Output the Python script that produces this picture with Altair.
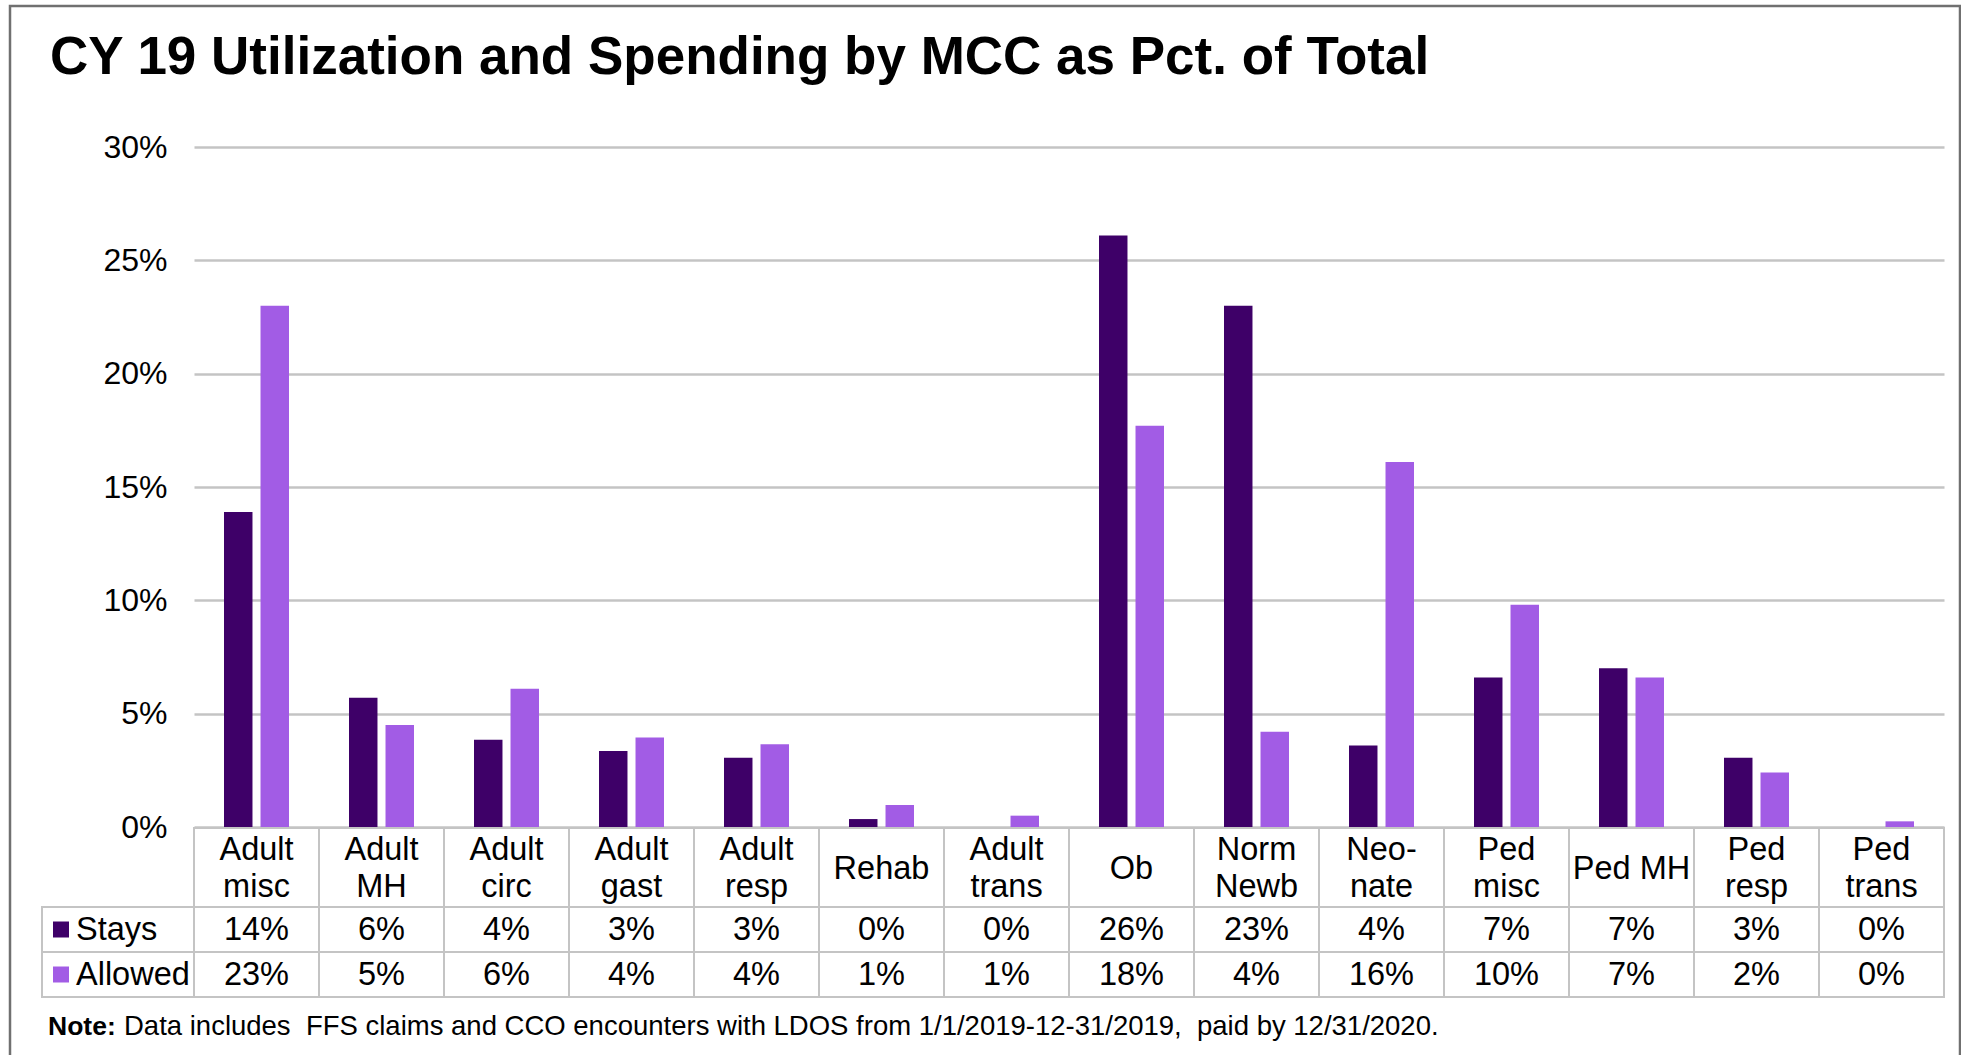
import altair as alt
import pandas as pd

# ---------------- data ----------------
categories = ["Adult\nmisc", "Adult\nMH", "Adult\ncirc", "Adult\ngast", "Adult\nresp", "Rehab",
              "Adult\ntrans", "Ob", "Norm\nNewb", "Neo-\nnate", "Ped\nmisc", "Ped MH",
              "Ped\nresp", "Ped\ntrans"]
series = ["Stays", "Allowed"]
stays = [13.9, 5.7, 3.85, 3.35, 3.05, 0.35, 0.0, 26.1, 23.0, 3.6, 6.6, 7.0, 3.05, 0.0]
allowed = [23.0, 4.5, 6.1, 3.95, 3.65, 0.97, 0.5, 17.7, 4.2, 16.1, 9.8, 6.6, 2.4, 0.25]
stays_text = ["14%", "6%", "4%", "3%", "3%", "0%", "0%", "26%", "23%", "4%", "7%", "7%", "3%", "0%"]
allowed_text = ["23%", "5%", "6%", "4%", "4%", "1%", "1%", "18%", "4%", "16%", "10%", "7%", "2%", "0%"]
y_ticks = [0, 5, 10, 15, 20, 25, 30]
title_text = "CY 19 Utilization and Spending by MCC as Pct. of Total"
note_bold = "Note:"
note_text = "Data includes\u00a0\u00a0FFS claims and CCO encounters with LDOS from 1/1/2019-12-31/2019,\u00a0\u00a0paid by 12/31/2020."
colors = ["#3E0068", "#A25CE5"]

# ---------------- layout ----------------
W, H = 1750, 680
FONT = "Liberation Sans"
GRID = "#c4c4c4"
TOP, R1, R2, R3 = 681, 760, 805, 850
LH = 37
TFS = 32.5

rows = []
for i, c in enumerate(categories):
    rows.append({"category": c, "series": "Stays", "value": stays[i], "label": stays_text[i]})
    rows.append({"category": c, "series": "Allowed", "value": allowed[i], "label": allowed_text[i]})
df = pd.DataFrame(rows)
cat_df = pd.DataFrame({"category": categories})
ser_df = pd.DataFrame({"series": series})
one = pd.DataFrame({"t": [title_text], "nb": [note_bold], "n": [note_text]})

color = alt.Color("series:N", scale=alt.Scale(domain=series, range=colors), legend=None)
x_bar = alt.X("category:N", scale=alt.Scale(domain=categories, paddingInner=0.48, paddingOuter=0.24), axis=None)
x_cell = alt.X("category:N", scale=alt.Scale(domain=categories, paddingInner=0, paddingOuter=0), axis=None)
y_row = alt.Y("series:N", scale=alt.Scale(domain=series, range=[R1, R3], paddingInner=0, paddingOuter=0), axis=None)

border = alt.Chart(one).mark_rect(fillOpacity=0, stroke="#707070", strokeWidth=2.5).encode(
    x=alt.value(-184), x2=alt.value(1766), y=alt.value(-141), y2=alt.value(930)
)

bars = alt.Chart(df).mark_bar().encode(
    x=x_bar,
    xOffset=alt.XOffset("series:N", scale=alt.Scale(domain=series, paddingInner=0.22, paddingOuter=0)),
    y=alt.Y("value:Q", scale=alt.Scale(domain=[0, 30], nice=False),
            axis=alt.Axis(values=y_ticks, labelExpr="datum.value + '%'", title=None, ticks=False,
                          domain=False, grid=True, gridColor=GRID, gridWidth=2.5, labelFont=FONT,
                          labelFontSize=32, labelColor="#000000", labelPadding=27)),
    color=color,
)

cell_kw = dict(fillOpacity=0, stroke=GRID, strokeWidth=2)
head_cells = alt.Chart(cat_df).mark_rect(**cell_kw).encode(x=x_cell, y=alt.value(TOP), y2=alt.value(R1))
stay_cells = alt.Chart(cat_df).mark_rect(**cell_kw).encode(x=x_cell, y=alt.value(R1), y2=alt.value(R2))
allow_cells = alt.Chart(cat_df).mark_rect(**cell_kw).encode(x=x_cell, y=alt.value(R2), y2=alt.value(R3))
legend_cells = alt.Chart(ser_df).mark_rect(**cell_kw).encode(x=alt.value(-152), x2=alt.value(0), y=y_row)

mid = (TOP + R1) / 2 + 1
head_text_2 = alt.Chart(cat_df).transform_filter(
    "indexof(datum.category, '\\n') >= 0"
).mark_text(font=FONT, fontSize=TFS, lineBreak="\n", lineHeight=LH,
            baseline="middle", color="#000000").encode(
    x=x_cell, y=alt.value(mid - LH / 2), text="category:N"
)
head_text_1 = alt.Chart(cat_df).transform_filter(
    "indexof(datum.category, '\\n') < 0"
).mark_text(font=FONT, fontSize=TFS, baseline="middle", color="#000000").encode(
    x=x_cell, y=alt.value(mid), text="category:N"
)
value_text = alt.Chart(df).mark_text(font=FONT, fontSize=TFS, baseline="middle", color="#000000").encode(
    x=x_cell, y=y_row, text="label:N"
)
legend_sq = alt.Chart(ser_df).mark_square(size=256, opacity=1).encode(
    x=alt.value(-133), y=y_row, color=color
)
legend_text = alt.Chart(ser_df).mark_text(font=FONT, fontSize=TFS, align="left", baseline="middle",
                                           color="#000000").encode(
    x=alt.value(-118), y=y_row, text="series:N"
)

title = alt.Chart(one).mark_text(font=FONT, fontSize=53, fontWeight="bold", align="left",
                                 baseline="alphabetic", color="#000000").encode(
    x=alt.value(-144), y=alt.value(-73), text="t:N"
)
note_b = alt.Chart(one).mark_text(font=FONT, fontSize=26.5, fontWeight="bold", align="left",
                                  baseline="alphabetic", color="#000000").encode(
    x=alt.value(-146), y=alt.value(888), text="nb:N"
)
note = alt.Chart(one).mark_text(font=FONT, fontSize=27.5, align="left",
                                baseline="alphabetic", color="#000000").encode(
    x=alt.value(-70), y=alt.value(888), text="n:N"
)

chart = alt.layer(
    border, bars, head_cells, stay_cells, allow_cells, legend_cells,
    head_text_2, head_text_1, value_text, legend_sq, legend_text, title, note_b, note
).resolve_scale(x="independent", y="independent").properties(
    width=W, height=H,
    padding={"left": 194, "top": 147, "right": 17, "bottom": 228},
    autosize=alt.AutoSizeParams(type="none"),
    background="white",
).configure_view(stroke=None)

chart.save("out.html", embed_options={"renderer": "svg", "actions": False})
